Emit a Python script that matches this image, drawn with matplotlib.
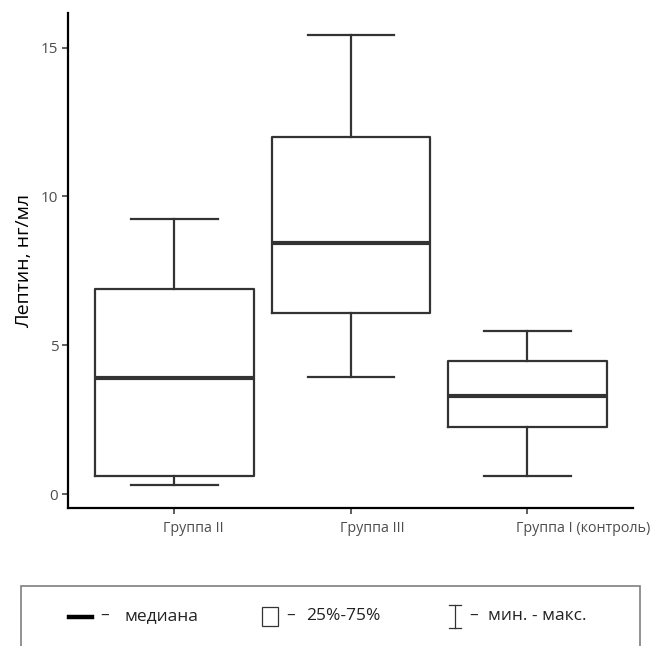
import matplotlib
matplotlib.use('Agg')
import matplotlib.pyplot as plt
from matplotlib.patches import Rectangle
from matplotlib.lines import Line2D
import matplotlib.transforms as mtransforms

plt.rcParams['font.family'] = ['Open Sans', 'DejaVu Sans']

# box statistics
groups = ['Группа II', 'Группа III', 'Группа I (контроль)']
whis_lo = [0.30, 3.94, 0.61]
q1 = [0.61, 6.09, 2.25]
median = [3.90, 8.44, 3.30]
q3 = [6.90, 12.01, 4.47]
whis_hi = [9.25, 15.41, 5.48]

W, H = 666, 646
fig = plt.figure(figsize=(W / 100, H / 100), dpi=100)
ax = fig.add_axes([68 / W, 1 - 508 / H, (633 - 68) / W, (508 - 13) / H])

stats = []
for i, name in enumerate(groups):
    stats.append(dict(label=name, whislo=whis_lo[i], q1=q1[i], med=median[i],
                      q3=q3[i], whishi=whis_hi[i], fliers=[]))

col = '#333333'
ax.bxp(stats, positions=range(len(groups)), widths=0.9, capwidths=0.49,
       showfliers=False,
       boxprops=dict(color=col, linewidth=1.6),
       whiskerprops=dict(color=col, linewidth=1.6),
       capprops=dict(color=col, linewidth=1.6),
       medianprops=dict(color=col, linewidth=3.0))

ax.set_xlim(-0.603, 2.598)
ax.set_ylim(-0.47, 16.16)
ax.set_yticks([0, 5, 10, 15])
for s in ['top', 'right']:
    ax.spines[s].set_visible(False)
for s in ['left', 'bottom']:
    ax.spines[s].set_linewidth(1.6)
    ax.spines[s].set_color('black')

ax.tick_params(axis='both', colors='#333333', labelcolor='#4d4d4d', length=4, width=1.1)
ax.tick_params(axis='y', labelsize=11, pad=3)
ax.tick_params(axis='x', labelsize=10.3, pad=5)
ax.set_xticklabels(groups, ha='left')
offset = mtransforms.ScaledTranslation(-11 / 100, 0, fig.dpi_scale_trans)
for lab in ax.get_xticklabels():
    lab.set_transform(lab.get_transform() + offset)

ax.set_ylabel('Лептин, нг/мл', fontsize=14, color='black', labelpad=6)


def fx(x):
    return x / W


def fy(y):
    return 1 - y / H


# legend box under the chart
tf = fig.transFigure
fig.patches.append(Rectangle((fx(21), fy(652)), fx(640) - fx(21), fy(586) - fy(652),
                             transform=tf, fill=False, edgecolor='#7f7f7f', linewidth=1.2))
fig.lines.append(Line2D([fx(69), fx(92)], [fy(617), fy(617)], transform=tf,
                        color='black', linewidth=3.2))
fig.patches.append(Rectangle((fx(262), fy(626)), fx(278) - fx(262), fy(607) - fy(626),
                             transform=tf, fill=False, edgecolor='#333333', linewidth=0.9))
fig.lines.append(Line2D([fx(455), fx(455)], [fy(605), fy(628)], transform=tf,
                        color='#333333', linewidth=0.9))
fig.lines.append(Line2D([fx(449), fx(461)], [fy(605), fy(605)], transform=tf,
                        color='#333333', linewidth=0.9))
fig.lines.append(Line2D([fx(449), fx(461)], [fy(628), fy(628)], transform=tf,
                        color='#333333', linewidth=0.9))

leg_kw = dict(transform=tf, fontsize=12.5, color='#222222', va='center', ha='left')
fig.text(fx(100), fy(616), '–', **leg_kw)
fig.text(fx(125), fy(616), 'медиана', **leg_kw)
fig.text(fx(286), fy(616), '–', **leg_kw)
fig.text(fx(306), fy(616), '25%-75%', **leg_kw)
fig.text(fx(469), fy(616), '–', **leg_kw)
fig.text(fx(488), fy(616), 'мин. - макс.', **leg_kw)

fig.savefig('out.png', dpi=100)
